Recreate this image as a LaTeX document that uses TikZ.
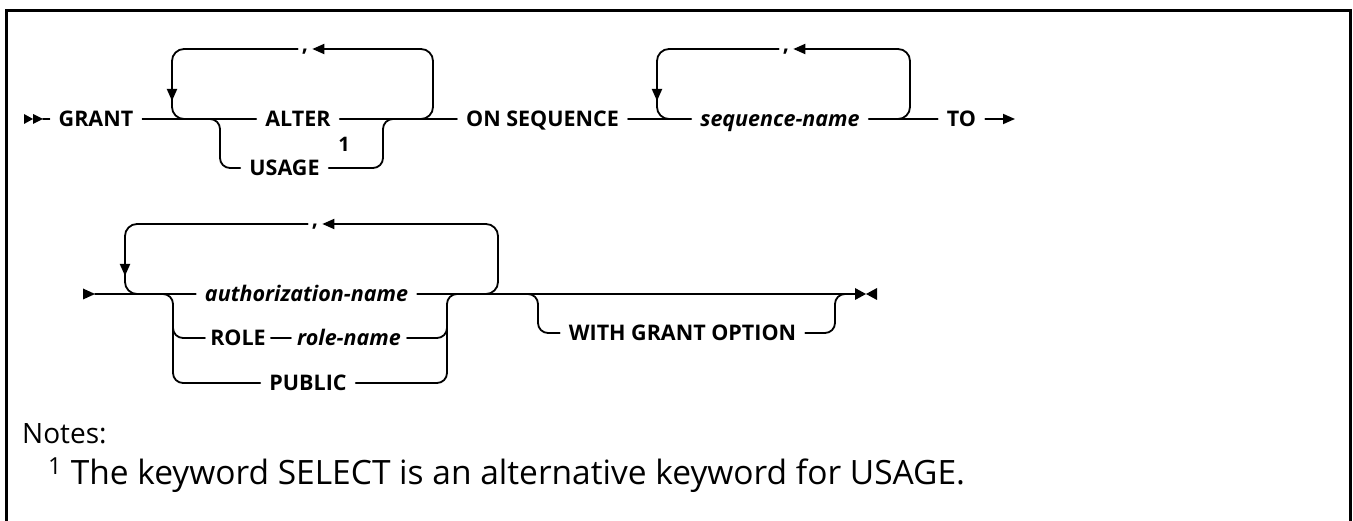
\documentclass[tikz,border=0pt]{standalone}
\usepackage{fontspec}
\setmainfont{Open Sans}
\newfontfamily\railfont{Open Sans}
\usetikzlibrary{arrows.meta}

\begin{document}
\begin{tikzpicture}[x=1pt,y=-1pt,
  rail/.style={line width=1.8pt,line cap=round},
  loop/.style={rail,rounded corners=12pt},
  fork/.style={rail,rounded corners=10pt},
  tip/.style={-{Triangle[length=12pt,width=10pt]}},
  kw/.style={font=\railfont\bfseries\fontsize{21.5}{25}\selectfont,inner xsep=9pt,inner ysep=0pt,
             text height=15pt,text depth=0pt},
  var/.style={kw,font=\railfont\bfseries\itshape\fontsize{21.5}{25}\selectfont},
  sep/.style={kw,inner xsep=4pt,text height=7pt,text depth=1pt},
  note/.style={font=\fontsize{28}{34}\selectfont,anchor=base west,inner sep=0pt}]
  \useasboundingbox (0,0) rectangle (1353,521);
  % frame
  \draw[line width=3pt] (6,521) -- (6,11) -- (1350,11) -- (1350,521);

  % first row
  \node[kw] (grant) at (96,119) {GRANT};
  \node[kw] (alter) at (298,119) {ALTER};
  \node[kw] (usage) at (284.5,168) {USAGE};
  \node[kw,inner sep=0pt,font=\railfont\bfseries\fontsize{20}{22}\selectfont] (fnmark) at (344,144) {1};
  \node[kw] (onseq) at (542.5,119) {ON SEQUENCE};
  \node[var] (seqname) at (780,119) {sequence-name};
  \node[kw] (to) at (961.5,119) {TO};
  \node[sep] (c1) at (305,49) {,};
  \node[sep] (c2) at (786,49) {,};

  \coordinate (st1) at (43,119);
  \coordinate (end1) at (1015,119);
  \coordinate (l1a) at (172,49);
  \coordinate (l1b) at (433,49);
  \coordinate (j1a) at (195,119);
  \coordinate (j1b) at (410,119);
  \coordinate (b1l) at (220,168);
  \coordinate (b1r) at (383,168);
  \coordinate (j1c) at (205,119);
  \coordinate (j1d) at (398,119);
  \coordinate (l2a) at (657,49);
  \coordinate (l2b) at (910,49);
  \coordinate (j1e) at (680,119);
  \coordinate (j1f) at (885,119);

  \fill (24,114) -- (33,119) -- (24,124) -- cycle;
  \fill (33,114) -- (43,119) -- (33,124) -- cycle;
  \draw[rail] (st1) -- (grant.west);
  \draw[rail] (grant.east) -- (alter.west);
  \draw[rail] (alter.east) -- (onseq.west);
  \draw[rail] (onseq.east) -- (seqname.west);
  \draw[rail] (seqname.east) -- (to.west);
  \draw[rail,tip] (to.east) -- (end1);
  % repeat loops
  \draw[loop,tip] (j1b) -| (l1b) -- (c1.east);
  \draw[loop] (c1.west) -- (l1a) |- (j1a);
  \draw[rail,tip] (172,78) -- (172,101);
  \draw[loop,tip] (j1f) -| (l2b) -- (c2.east);
  \draw[loop] (c2.west) -- (l2a) |- (j1e);
  \draw[rail,tip] (657,78) -- (657,101);
  % choice
  \draw[fork] (j1c) -| (b1l) -- (usage.west);
  \draw[fork] (usage.east) -- (b1r) |- (j1d);

  % second row
  \node[var] (auth) at (306.5,294) {authorization-name};
  \node[kw,inner xsep=5pt] (role) at (238,338) {ROLE};
  \node[var,inner xsep=6pt] (rolename) at (349,338) {role-name};
  \node[kw] (public) at (308,383) {PUBLIC};
  \node[kw] (wgo) at (682.5,333) {WITH GRANT OPTION};
  \node[sep] (c3) at (315,224) {,};

  \coordinate (st2) at (95,294);
  \coordinate (end2) at (855,294);
  \coordinate (l3a) at (125,224);
  \coordinate (l3b) at (498,224);
  \coordinate (j2a) at (148,294);
  \coordinate (j2b) at (478,294);
  \coordinate (j2c) at (158,294);
  \coordinate (b2lb) at (173,383);
  \coordinate (b2lm) at (173,318);
  \coordinate (b2rt) at (447,294);
  \coordinate (b2rm) at (447,318);
  \coordinate (j2d) at (462,294);
  \coordinate (j2e) at (520,294);
  \coordinate (b3l) at (538,333);
  \coordinate (b3r) at (835,294);
  \coordinate (j2f) at (848,294);

  \fill (83,288.5) -- (95,294) -- (83,299.5) -- cycle;
  \fill (855,288) -- (866,294) -- (855,300) -- cycle;
  \fill (877,288) -- (866,294) -- (877,300) -- cycle;
  \draw[rail] (st2) -- (auth.west);
  \draw[rail] (auth.east) -- (end2);
  \draw[rail] (role.east) -- (rolename.west);
  \draw[loop,tip] (j2b) -| (l3b) -- (c3.east);
  \draw[loop] (c3.west) -- (l3a) |- (j2a);
  \draw[rail,tip] (125,250) -- (125,276);
  \draw[fork] (j2c) -| (b2lb) -- (public.west);
  \draw[fork] (b2lm) |- (role.west);
  \draw[fork] (public.east) -| (b2rt) -- (j2d);
  \draw[fork] (rolename.east) -| (b2rm);
  \draw[fork] (j2e) -| (b3l) -- (wgo.west);
  \draw[fork] (wgo.east) -| (b3r) -- (j2f);

  % notes
  \node[note] (notes) at (22,443) {Notes:};
  \node[note,font=\fontsize{33.5}{40}\selectfont] (fn) at (48,484) {\textsuperscript{1} The keyword SELECT is an alternative keyword for USAGE.};
\end{tikzpicture}
\end{document}
